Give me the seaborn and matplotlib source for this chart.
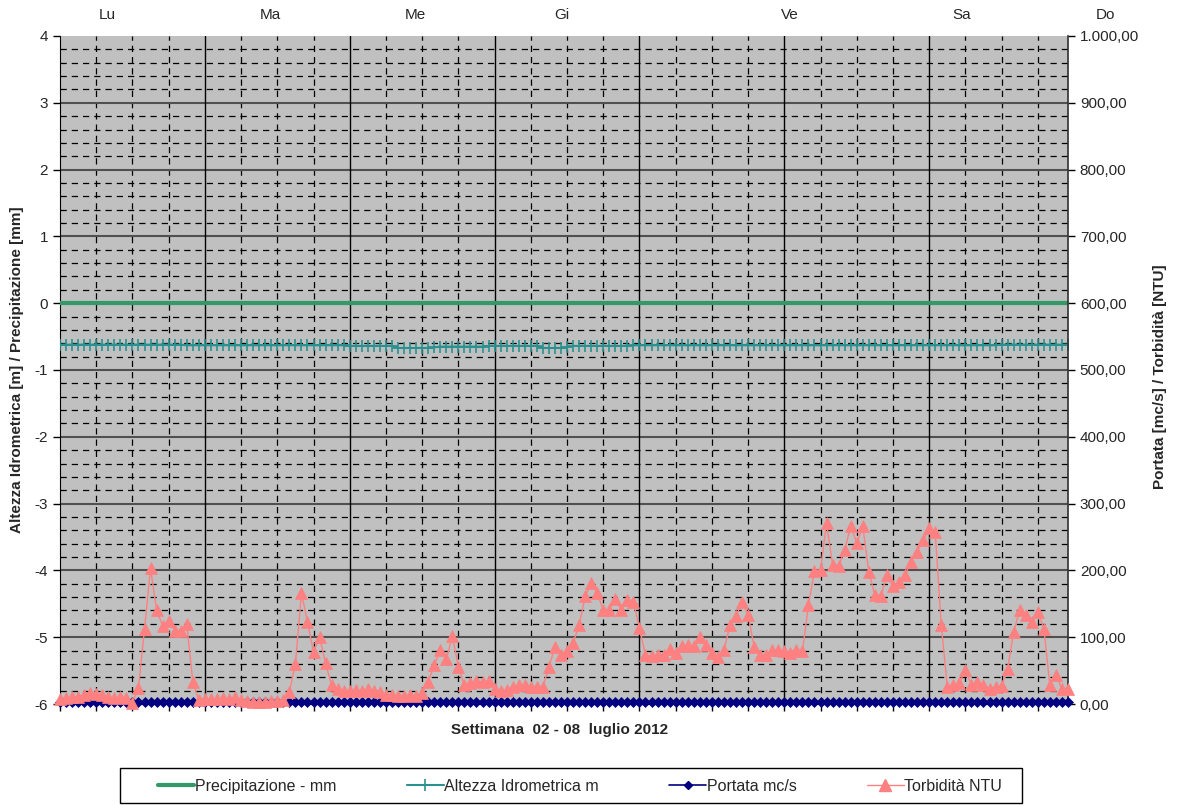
import numpy as np
import pandas as pd
import seaborn as sns
import matplotlib
matplotlib.use("Agg")
import matplotlib.pyplot as plt
from matplotlib.lines import Line2D
from matplotlib.patches import Rectangle
from matplotlib.ticker import FuncFormatter

# Hourly readings, week 02 - 08 luglio 2012 (one value per hour, 24 per day)
giorni = ["Lu", "Ma", "Me", "Gi", "Ve", "Sa", "Do"]
giorni_px = [107, 270, 415, 562, 790, 962, 1105]   # where the day names sit above the chart

torb_lu = [8, 9, 10, 11, 14, 16, 15, 13, 10, 9, 10, 9,
           2, 24, 112, 203, 141, 117, 125, 110, 110, 120, 33, 6]
torb_ma = [7, 8, 8, 9, 8, 10, 6, 4, 3, 3, 3, 4,
           4, 6, 18, 60, 166, 123, 78, 100, 61, 28, 22, 20]
torb_me = [20, 21, 19, 22, 20, 18, 14, 13, 12, 12, 13, 12,
           17, 33, 58, 81, 67, 102, 56, 28, 32, 34, 33, 35]
torb_gi = [22, 19, 21, 26, 28, 29, 26, 26, 26, 55, 86, 73,
           79, 91, 118, 161, 181, 166, 141, 141, 157, 141, 156, 153]
torb_ve = [114, 73, 72, 74, 74, 83, 76, 87, 88, 87, 100, 88,
           76, 71, 81, 118, 131, 153, 133, 86, 73, 73, 81, 81]
torb_sa = [79, 77, 81, 79, 148, 199, 201, 271, 208, 207, 230, 267,
           241, 266, 198, 163, 162, 193, 176, 182, 193, 213, 228, 245]
torb_do = [263, 258, 118, 26, 28, 31, 51, 29, 33, 28, 23, 26,
           27, 53, 108, 141, 133, 123, 138, 113, 28, 43, 23, 23]

alt_lu = [-0.62, -0.62, -0.62, -0.62, -0.62, -0.62, -0.62, -0.62, -0.62, -0.62, -0.62, -0.62,
          -0.62, -0.62, -0.62, -0.62, -0.62, -0.62, -0.62, -0.62, -0.62, -0.63, -0.63, -0.63]
alt_ma = [-0.63, -0.63, -0.63, -0.63, -0.63, -0.63, -0.63, -0.63, -0.63, -0.63, -0.63, -0.63,
          -0.63, -0.63, -0.63, -0.63, -0.63, -0.63, -0.63, -0.63, -0.63, -0.63, -0.63, -0.63]
alt_me = [-0.64, -0.64, -0.64, -0.64, -0.64, -0.64, -0.64, -0.64, -0.67, -0.67, -0.67, -0.67,
          -0.67, -0.67, -0.66, -0.65, -0.65, -0.65, -0.65, -0.65, -0.65, -0.65, -0.65, -0.64]
alt_gi = [-0.64, -0.64, -0.64, -0.64, -0.64, -0.64, -0.64, -0.64, -0.67, -0.67, -0.67, -0.67,
          -0.66, -0.64, -0.64, -0.64, -0.64, -0.64, -0.64, -0.64, -0.64, -0.64, -0.64, -0.63]
alt_ve = [-0.63, -0.63, -0.63, -0.63, -0.63, -0.63, -0.63, -0.63, -0.63, -0.63, -0.63, -0.63,
          -0.63, -0.63, -0.63, -0.63, -0.63, -0.63, -0.63, -0.63, -0.63, -0.63, -0.63, -0.63]
alt_sa = [-0.63, -0.63, -0.63, -0.63, -0.63, -0.63, -0.63, -0.63, -0.63, -0.63, -0.63, -0.63,
          -0.63, -0.63, -0.63, -0.63, -0.63, -0.63, -0.63, -0.63, -0.63, -0.63, -0.63, -0.63]
alt_do = [-0.63, -0.63, -0.63, -0.63, -0.63, -0.63, -0.63, -0.63, -0.63, -0.63, -0.63, -0.63,
          -0.62, -0.62, -0.62, -0.62, -0.62, -0.62, -0.62, -0.62, -0.62, -0.62, -0.62, -0.62]

torbidita_ntu = torb_lu + torb_ma + torb_me + torb_gi + torb_ve + torb_sa + torb_do
altezza_m = alt_lu + alt_ma + alt_me + alt_gi + alt_ve + alt_sa + alt_do
precip_mm = [0.0] * 168      # no rain all week, flat line at 0
portata_mcs = [2.5] * 168    # flat along the bottom

ore = np.arange(168)   # hour of the week, category axis "on tick marks"

df = pd.DataFrame({"ora": ore, "precip": precip_mm, "altezza": altezza_m,
                   "portata": portata_mcs, "torbidita": torbidita_ntu})

sns.set_style("ticks")
plt.rcParams["font.family"] = ["Liberation Sans", "DejaVu Sans"]
plt.rcParams["axes.unicode_minus"] = False

W, H = 1177, 805
fig = plt.figure(figsize=(W / 100, H / 100), dpi=100)
ax = fig.add_axes([60 / W, 1 - 704 / H, 1008 / W, 668 / H])
ax.set_facecolor("#c0c0c0")
ax2 = ax.twinx()

ax.set_xlim(0, 167)
ax.set_ylim(-6, 4)
ax2.set_ylim(0, 1000)

# grid, drawn by hand (dashed minor, solid major)
dash = (0, (5, 4))
for v in np.round(np.arange(-5.8, 4.0, 0.2), 1):
    if abs(v - round(v)) < 1e-6:
        ax.axhline(v, color="#505050", lw=1.5, zorder=0.6)
    else:
        ax.axhline(v, color="k", lw=0.9, ls=dash, zorder=0.5)
for h in range(6, 167, 6):
    if h % 24 == 0:
        ax.axvline(h, color="k", lw=1.0, zorder=0.6)
    else:
        ax.axvline(h, color="k", lw=0.9, ls=dash, zorder=0.5)

sns.lineplot(data=df, x="ora", y="precip", ax=ax, color="#339966", linewidth=3,
             legend=False, zorder=3)
sns.lineplot(data=df, x="ora", y="altezza", ax=ax, color="#2a9090", linewidth=1.5,
             marker="+", markersize=8, markeredgewidth=1.2, markeredgecolor="#2a9090",
             legend=False, zorder=4)
sns.lineplot(data=df, x="ora", y="portata", ax=ax2, color="#000080", linewidth=1.2,
             marker="D", markersize=4.8, markeredgewidth=0.5, markeredgecolor="#000080",
             legend=False, zorder=3, clip_on=False)
sns.lineplot(data=df, x="ora", y="torbidita", ax=ax2, color="#ff8080", linewidth=1.0,
             marker="^", markersize=9, markeredgewidth=0.5, markeredgecolor="#ff8080",
             legend=False, zorder=4, clip_on=False)

# ticks
ax.set_xticks(range(0, 168, 6))
ax.set_xticklabels([])
ax.set_yticks(range(-6, 5))
ax.tick_params(axis="both", direction="out", length=5, width=1, color="k",
               labelsize=11, left=True, bottom=True)
ax2.set_yticks(range(0, 1001, 100))
ax2.yaxis.set_major_formatter(FuncFormatter(
    lambda v, p: f"{v:,.2f}".replace(",", "X").replace(".", ",").replace("X", ".")))
ax2.tick_params(axis="y", direction="out", length=5, width=1, color="k", labelsize=11)

for a in (ax, ax2):
    a.spines["top"].set_visible(False)
ax.spines["left"].set_color("k")
ax.spines["bottom"].set_color("k")
ax2.spines["right"].set_color("#303030")
ax2.spines["right"].set_linewidth(1.2)
ax2.spines["left"].set_visible(False)
ax2.spines["bottom"].set_visible(False)
ax.spines["right"].set_visible(False)

ax.set_xlabel("Settimana  02 - 08  luglio 2012", fontsize=11, fontweight="bold")
ax.xaxis.set_label_coords(0.496, -0.028)
ax.set_ylabel("Altezza Idrometrica [m] / Precipitazione [mm]", fontsize=11, fontweight="bold")
ax.yaxis.set_label_coords(-0.0357, 0.5)
ax2.set_ylabel("Portata [mc/s] / Torbidità [NTU]", fontsize=11, fontweight="bold")
ax2.yaxis.set_label_coords(1.0843, 0.49)

for g, px in zip(giorni, giorni_px):
    fig.text(px / W, 1 - 15 / H, g, ha="center", va="center", fontsize=11)

# legend box drawn separately so the content can sit with wide side margins
fig.add_artist(Rectangle((120 / W, 1 - 803 / H), 902 / W, 35 / H, transform=fig.transFigure,
                         fill=False, edgecolor="k", linewidth=1.0))
handles = [
    Line2D([], [], color="#339966", lw=3),
    Line2D([], [], color="#2a9090", lw=1.5, marker="+", ms=9, mew=1.2),
    Line2D([], [], color="#000080", lw=1.2, marker="D", ms=4.5),
    Line2D([], [], color="#ff8080", lw=1.0, marker="^", ms=9),
]
labels = ["Precipitazione - mm", "Altezza Idrometrica m", "Portata mc/s", "Torbidità NTU"]
leg = fig.legend(handles, labels, loc="center", bbox_to_anchor=(580 / W, 1 - 786 / H),
                 ncol=4, frameon=False, fontsize=11.5, numpoints=1,
                 handlelength=2.3, handletextpad=0.05, columnspacing=4.4, borderpad=0.3,
                 borderaxespad=0)

fig.savefig("out.png", dpi=100)
